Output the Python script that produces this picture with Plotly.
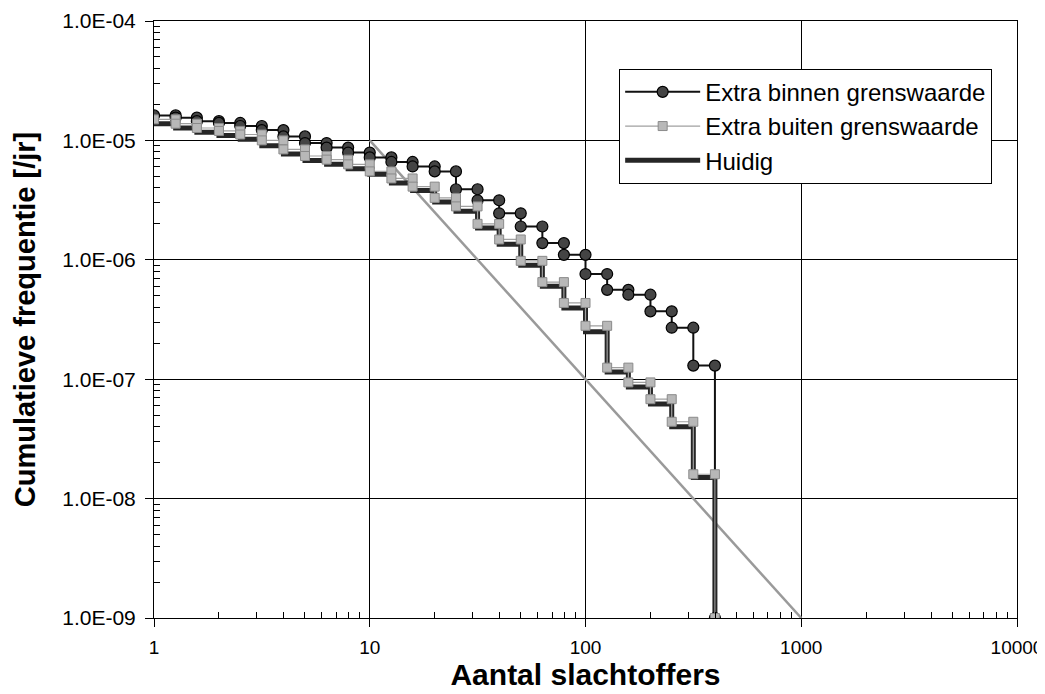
import plotly.graph_objects as go

# Number of victims (x positions of the step points)
n_vals = [1, 1.26, 1.58, 2, 2.51, 3.16, 3.98, 5.01, 6.31, 7.94,
          10, 12.6, 15.8, 20, 25.1, 31.6, 39.8, 50.1, 63.1, 79.4,
          100, 126, 158, 200, 251, 316, 398]

# Cumulative frequency per series [/jr]
extra_binnen = [1.62e-5, 1.55e-5, 1.45e-5, 1.40e-5, 1.32e-5, 1.22e-5, 1.08e-5, 9.5e-6, 8.7e-6, 7.9e-6,
                7.2e-6, 6.6e-6, 6.05e-6, 5.5e-6, 3.9e-6, 3.15e-6, 2.45e-6, 1.9e-6, 1.38e-6, 1.1e-6,
                7.6e-7, 5.6e-7, 5.1e-7, 3.7e-7, 2.7e-7, 1.3e-7, 1e-9]
extra_buiten = [1.50e-5, 1.38e-5, 1.27e-5, 1.20e-5, 1.12e-5, 1.0e-5, 8.4e-6, 7.4e-6, 6.9e-6, 6.3e-6,
                5.5e-6, 4.8e-6, 4.1e-6, 3.3e-6, 2.8e-6, 2.0e-6, 1.48e-6, 9.8e-7, 6.5e-7, 4.35e-7,
                2.8e-7, 1.25e-7, 9.4e-8, 6.8e-8, 4.4e-8, 1.6e-8, 1e-9]
huidig = [1.38e-5, 1.27e-5, 1.17e-5, 1.10e-5, 1.02e-5, 9.0e-6, 7.7e-6, 6.8e-6, 6.3e-6, 5.8e-6,
          5.2e-6, 4.4e-6, 3.8e-6, 3.05e-6, 2.55e-6, 1.85e-6, 1.35e-6, 9.0e-7, 6.0e-7, 3.95e-7,
          2.5e-7, 1.15e-7, 8.6e-8, 6.2e-8, 4.0e-8, 1.5e-8, 1e-9]

# Limit line (oriëntatiewaarde)
limit_n = [10, 1000]
limit_f = [1e-5, 1e-9]

x_ticks = [1, 10, 100, 1000, 10000]
x_ticktext = ["1", "10", "100", "1000", "10000"]
y_ticks = [1e-9, 1e-8, 1e-7, 1e-6, 1e-5, 1e-4]
y_ticktext = ["1.0E-09", "1.0E-08", "1.0E-07", "1.0E-06", "1.0E-05", "1.0E-04"]

x_minor = [m * 10 ** d for d in range(0, 4) for m in range(2, 10)]
y_minor = [m * 10.0 ** d for d in range(-9, -4) for m in range(2, 10)]


def step(xv, fv):
    xs, ys = [xv[0]], [fv[0]]
    for k in range(1, len(xv)):
        xs += [xv[k], xv[k]]
        ys += [fv[k - 1], fv[k]]
    return xs, ys


FONT = "Arial, 'Liberation Sans', sans-serif"

fig = go.Figure()

fig.add_trace(go.Scatter(x=limit_n, y=limit_f, mode="lines",
                         line=dict(color="#9a9a9a", width=2.5),
                         showlegend=False, hoverinfo="skip"))

hx, hy = step(n_vals, huidig)
fig.add_trace(go.Scatter(x=hx, y=hy, mode="lines", name="Huidig",
                         line=dict(color="#262626", width=5), legendrank=3))

bx, by = step(n_vals, extra_binnen)
fig.add_trace(go.Scatter(x=bx, y=by, mode="lines+markers", name="Extra binnen grenswaarde",
                         line=dict(color="#111111", width=2),
                         marker=dict(symbol="circle", size=11, color="#444444",
                                     line=dict(color="#000000", width=1.2)),
                         legendrank=1))

gx, gy = step(n_vals, extra_buiten)
fig.add_trace(go.Scatter(x=gx, y=gy, mode="lines+markers", name="Extra buiten grenswaarde",
                         line=dict(color="#a0a0a0", width=1.2),
                         marker=dict(symbol="square", size=9, color="#b8b8b8",
                                     line=dict(color="#8a8a8a", width=1)),
                         legendrank=2))

axis_common = dict(
    type="log", automargin=False,
    showgrid=True, gridcolor="#000000", gridwidth=1,
    showline=True, linecolor="#000000", linewidth=1, mirror=True,
    ticks="outside", ticklen=8, tickcolor="#000000",
    zeroline=False,
)

fig.update_xaxes(**axis_common, range=[0, 4], tickvals=x_ticks, ticktext=x_ticktext,
                 tickfont=dict(family=FONT, size=19, color="#000000"),
                 ticklabelstandoff=4,
                 minor=dict(ticks="inside", ticklen=6, tickcolor="#000000", showgrid=False,
                            tickvals=x_minor),
                 title=dict(text="<b>Aantal slachtoffers</b>",
                            font=dict(family=FONT, size=30, color="#000000"), standoff=0))
fig.update_yaxes(**axis_common, range=[-9, -4], tickvals=y_ticks, ticktext=y_ticktext,
                 tickfont=dict(family=FONT, size=21, color="#000000"),
                 ticklabelstandoff=5,
                 minor=dict(ticks="inside", ticklen=6, tickcolor="#000000", showgrid=False,
                            tickvals=y_minor),
                 title=dict(text="<b>Cumulatieve frequentie [/jr]</b>",
                            font=dict(family=FONT, size=29, color="#000000"), standoff=18))

fig.update_layout(
    width=1045, height=694,
    margin=dict(l=146, r=36, t=13, b=84),
    plot_bgcolor="white", paper_bgcolor="white",
    font=dict(family=FONT, color="#000000"),
    legend=dict(x=0.539, y=0.92, xanchor="left", yanchor="top",
                bgcolor="white", bordercolor="#000000", borderwidth=1,
                font=dict(family=FONT, size=24, color="#000000"),
                itemwidth=75),
    showlegend=True,
)

fig.write_html("out.html")
